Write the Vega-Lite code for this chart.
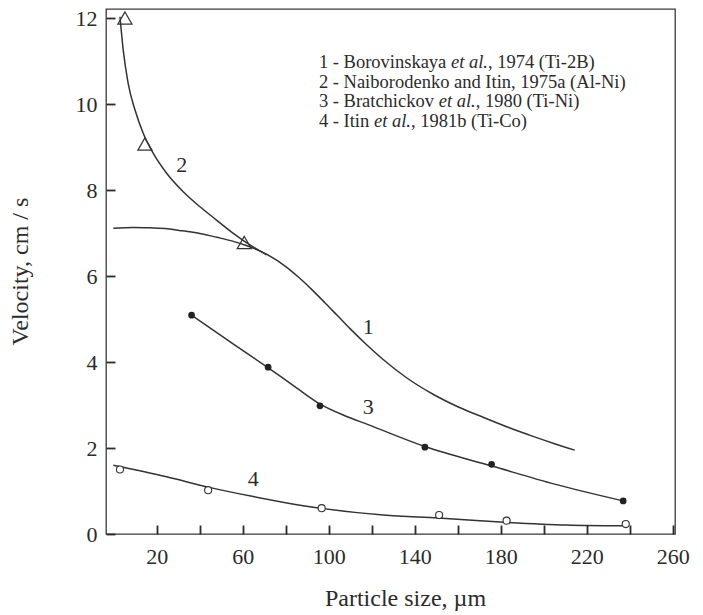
{
  "$schema": "https://vega.github.io/schema/vega-lite/v6.json",
  "width": 569,
  "height": 525,
  "autosize": {"type": "none"},
  "padding": {"left": 106, "top": 9, "right": 28, "bottom": 81},
  "background": "white",
  "config": {
    "view": {"stroke": "#3a3a3a", "strokeWidth": 1.3},
    "font": "Liberation Serif"
  },
  "datasets": {
    "lines": [
      {"s": "1", "x": -0.2, "y": 7.11}, {"s": "1", "x": 9, "y": 7.13}, {"s": "1", "x": 17, "y": 7.12},
      {"s": "1", "x": 25, "y": 7.10}, {"s": "1", "x": 32, "y": 7.05}, {"s": "1", "x": 40, "y": 6.99},
      {"s": "1", "x": 48, "y": 6.90}, {"s": "1", "x": 56, "y": 6.80}, {"s": "1", "x": 61, "y": 6.72},
      {"s": "1", "x": 71, "y": 6.51}, {"s": "1", "x": 80, "y": 6.22}, {"s": "1", "x": 86, "y": 5.97},
      {"s": "1", "x": 92, "y": 5.69}, {"s": "1", "x": 98, "y": 5.39}, {"s": "1", "x": 104, "y": 5.08},
      {"s": "1", "x": 110, "y": 4.77}, {"s": "1", "x": 117, "y": 4.43}, {"s": "1", "x": 125, "y": 4.07},
      {"s": "1", "x": 136, "y": 3.64}, {"s": "1", "x": 148.5, "y": 3.25}, {"s": "1", "x": 160, "y": 2.96},
      {"s": "1", "x": 172, "y": 2.71}, {"s": "1", "x": 184, "y": 2.47}, {"s": "1", "x": 195, "y": 2.27},
      {"s": "1", "x": 205, "y": 2.10}, {"s": "1", "x": 214.4, "y": 1.95},
      {"s": "2", "x": 2.9, "y": 12.03}, {"s": "2", "x": 4.4, "y": 11.26}, {"s": "2", "x": 6.7, "y": 10.48},
      {"s": "2", "x": 9.9, "y": 9.86}, {"s": "2", "x": 13.7, "y": 9.32}, {"s": "2", "x": 18.4, "y": 8.85},
      {"s": "2", "x": 24.6, "y": 8.39}, {"s": "2", "x": 32.3, "y": 7.96}, {"s": "2", "x": 40.1, "y": 7.61},
      {"s": "2", "x": 47.8, "y": 7.30}, {"s": "2", "x": 55.6, "y": 6.99}, {"s": "2", "x": 61, "y": 6.80},
      {"s": "2", "x": 71.1, "y": 6.49},
      {"s": "3", "x": 36.2, "y": 5.09}, {"s": "3", "x": 55, "y": 4.44}, {"s": "3", "x": 72, "y": 3.86},
      {"s": "3", "x": 85, "y": 3.40}, {"s": "3", "x": 96, "y": 3.02}, {"s": "3", "x": 108, "y": 2.74},
      {"s": "3", "x": 118, "y": 2.55}, {"s": "3", "x": 145, "y": 2.03}, {"s": "3", "x": 176, "y": 1.58},
      {"s": "3", "x": 205, "y": 1.16}, {"s": "3", "x": 236.9, "y": 0.77},
      {"s": "4", "x": -0.2, "y": 1.60}, {"s": "4", "x": 24.6, "y": 1.33}, {"s": "4", "x": 43.9, "y": 1.09},
      {"s": "4", "x": 64.9, "y": 0.87}, {"s": "4", "x": 86.6, "y": 0.67}, {"s": "4", "x": 125.3, "y": 0.44},
      {"s": "4", "x": 150.9, "y": 0.37}, {"s": "4", "x": 183.4, "y": 0.27}, {"s": "4", "x": 210.5, "y": 0.21},
      {"s": "4", "x": 237.7, "y": 0.19}
    ],
    "tri": [
      {"x": 5.2, "y": 12.0}, {"x": 14.5, "y": 9.07}, {"x": 60.7, "y": 6.78}
    ],
    "dot": [
      {"x": 36.2, "y": 5.09}, {"x": 71.8, "y": 3.88}, {"x": 95.9, "y": 2.98},
      {"x": 144.7, "y": 2.02}, {"x": 175.7, "y": 1.62}, {"x": 236.9, "y": 0.77}
    ],
    "ring": [
      {"x": 2.9, "y": 1.50}, {"x": 43.9, "y": 1.02}, {"x": 96.7, "y": 0.60},
      {"x": 151.3, "y": 0.44}, {"x": 182.7, "y": 0.31}, {"x": 238.1, "y": 0.23}
    ],
    "curvelabels": [
      {"x": 31.6, "y": 8.58, "t": "2"}, {"x": 118.3, "y": 4.82, "t": "1"},
      {"x": 118.3, "y": 2.96, "t": "3"}, {"x": 64.9, "y": 1.27, "t": "4"}
    ],
    "legend": [
      {"x": 95.4, "y": 10.98, "t": "1 - Borovinskaya "},
      {"x": 174.0, "y": 10.98, "t": ", 1974 (Ti-2B)"},
      {"x": 95.4, "y": 10.51, "t": "2 - Naiborodenko and Itin, 1975a (Al-Ni)"},
      {"x": 95.4, "y": 10.06, "t": "3 - Bratchickov "},
      {"x": 168.3, "y": 10.06, "t": ", 1980 (Ti-Ni)"},
      {"x": 95.4, "y": 9.60, "t": "4 - Itin "},
      {"x": 138.2, "y": 9.60, "t": ", 1981b (Ti-Co)"}
    ],
    "legendit": [
      {"x": 156.8, "y": 10.98, "t": "et al."},
      {"x": 151.1, "y": 10.06, "t": "et al."},
      {"x": 121.0, "y": 9.60, "t": "et al."}
    ]
  },
  "encoding": {
    "x": {
      "field": "x", "type": "quantitative",
      "scale": {"domain": [-3.6, 261], "nice": false, "zero": false},
      "axis": {
        "title": "Particle size, µm",
        "values": [20, 40, 60, 80, 100, 120, 140, 160, 180, 200, 220, 240, 260],
        "labelExpr": "datum.value % 40 == 20 ? datum.label : ''",
        "offset": -9,
        "ticks": true, "tickSize": 9, "tickColor": "#2a2a2a", "tickWidth": 1.8,
        "domain": false, "grid": false, "zindex": 1,
        "labelFont": "Liberation Serif", "labelFontSize": 22, "labelColor": "#2b2b2b",
        "labelPadding": 12, "labelFlush": false, "labelOverlap": false,
        "titleFont": "Liberation Serif", "titleFontSize": 24, "titleFontWeight": "normal",
        "titleColor": "#2b2b2b", "titleX": 299, "titleY": 73, "titleBaseline": "middle", "titleAlign": "center"
      }
    },
    "y": {
      "field": "y", "type": "quantitative",
      "scale": {"domain": [0, 12.21], "nice": false, "zero": false},
      "axis": {
        "title": "Velocity, cm / s",
        "values": [0, 2, 4, 6, 8, 10, 12],
        "offset": -9,
        "ticks": true, "tickSize": 9, "tickColor": "#2a2a2a", "tickWidth": 1.8,
        "domain": false, "grid": false, "zindex": 1,
        "labelFont": "Liberation Serif", "labelFontSize": 22, "labelColor": "#2b2b2b",
        "labelPadding": 9, "labelFlush": false, "labelOverlap": false,
        "titleFont": "Liberation Serif", "titleFontSize": 24, "titleFontWeight": "normal",
        "titleColor": "#2b2b2b", "titleX": -95, "titleY": 262, "titleAngle": 270,
        "titleBaseline": "middle", "titleAlign": "center"
      }
    }
  },
  "layer": [
    {
      "data": {"name": "lines"},
      "mark": {"type": "line", "interpolate": "monotone", "color": "#333", "strokeWidth": 1.5},
      "encoding": {"detail": {"field": "s"}}
    },
    {
      "data": {"name": "tri"},
      "mark": {"type": "point", "shape": "triangle-up", "size": 200, "filled": false, "color": "#333", "strokeWidth": 1.2, "opacity": 1}
    },
    {
      "data": {"name": "dot"},
      "mark": {"type": "point", "shape": "circle", "size": 45, "filled": true, "color": "#222", "opacity": 1}
    },
    {
      "data": {"name": "ring"},
      "mark": {"type": "point", "shape": "circle", "size": 50, "filled": false, "color": "#333", "fill": "white", "fillOpacity": 1, "strokeWidth": 1.1, "opacity": 1}
    },
    {
      "data": {"name": "curvelabels"},
      "mark": {"type": "text", "font": "Liberation Serif", "fontSize": 22, "color": "#2b2b2b", "align": "center", "baseline": "middle"},
      "encoding": {"text": {"field": "t"}}
    },
    {
      "data": {"name": "legend"},
      "mark": {"type": "text", "font": "Liberation Serif", "fontSize": 18.5, "color": "#2b2b2b", "align": "left", "baseline": "middle"},
      "encoding": {"text": {"field": "t"}}
    },
    {
      "data": {"name": "legendit"},
      "mark": {"type": "text", "font": "Liberation Serif", "fontSize": 18.5, "fontStyle": "italic", "color": "#2b2b2b", "align": "left", "baseline": "middle"},
      "encoding": {"text": {"field": "t"}}
    }
  ]
}
